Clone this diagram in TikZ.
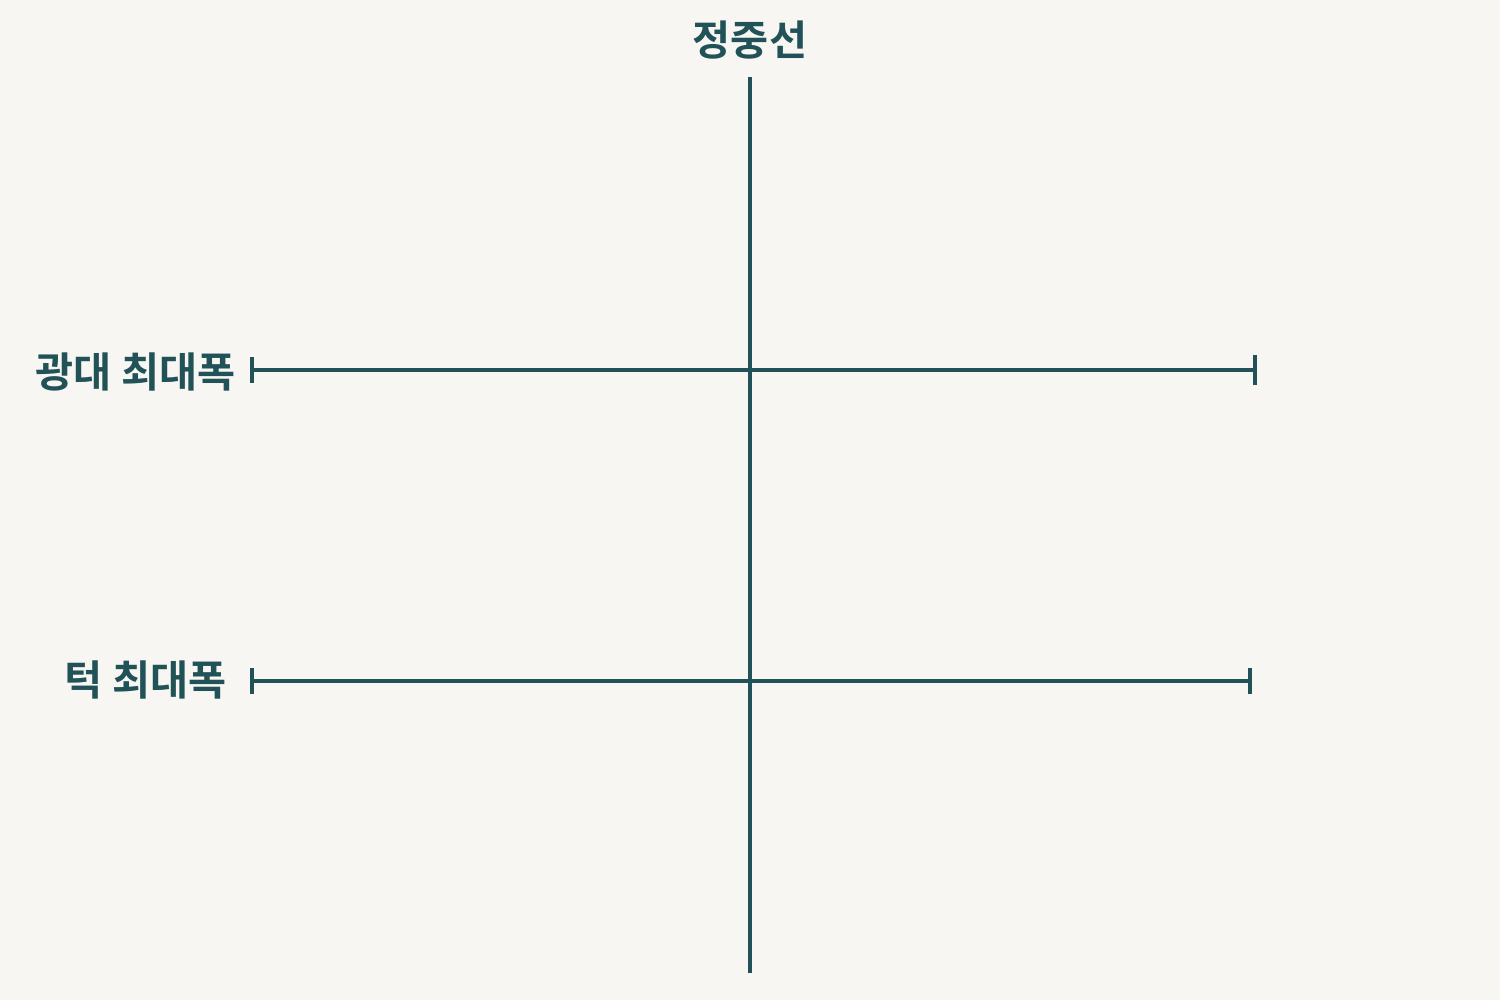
\documentclass[tikz,border=0pt]{standalone}
\usepackage{fontspec}
\newfontfamily\kr{Noto Sans CJK KR Bold}
\definecolor{ink}{HTML}{215257}
\definecolor{bg}{HTML}{F8F6F2}
\begin{document}
\begin{tikzpicture}[x=0.5pt,y=-0.5pt,
  axis/.style={draw=ink,line width=1.6pt},
  lbl/.style={text=ink,font=\kr\fontsize{20.7}{24}\selectfont,inner sep=0pt}]
\fill[bg] (0,0) rectangle (1500,1000);
\useasboundingbox (0,0) rectangle (1500,1000);
% midline
\coordinate (mt) at (750,77);
\coordinate (mb) at (750,973);
\draw[axis] (mt) -- (mb);
\node[lbl] (mid) at (750,40) {정중선};
% cheekbone width
\coordinate (c1) at (252,370);
\coordinate (c2) at (1255,370);
\draw[axis] (c1) -- (c2);
\draw[axis] ([yshift=-13pt*0.5]c1) -- ([yshift=13pt*0.5]c1);
\draw[axis] ([yshift=-15pt*0.5]c2) -- ([yshift=15pt*0.5]c2);
\node[lbl,anchor=east] (cheek) at (236,372) {광대 최대폭};
% jaw width
\coordinate (j1) at (252,681);
\coordinate (j2) at (1250,681);
\draw[axis] (j1) -- (j2);
\draw[axis] ([yshift=-13pt*0.5]j1) -- ([yshift=13pt*0.5]j1);
\draw[axis] ([yshift=-13pt*0.5]j2) -- ([yshift=13pt*0.5]j2);
\node[lbl,anchor=east] (jaw) at (227,680) {턱 최대폭};
\end{tikzpicture}
\end{document}
